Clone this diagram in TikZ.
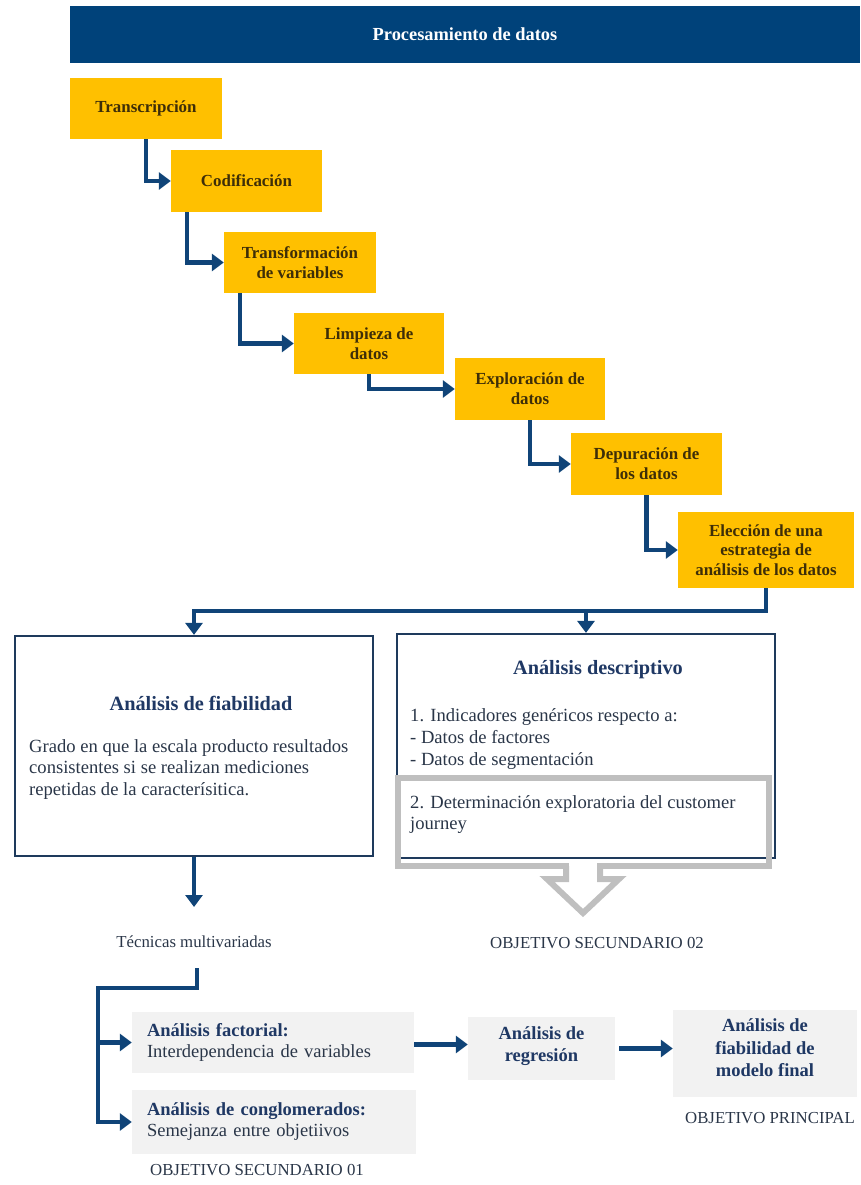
\documentclass[tikz,border=0pt]{standalone}
\usepackage{fontspec}
\setmainfont{Liberation Serif}
\usetikzlibrary{arrows.meta}
\definecolor{headblue}{RGB}{0,66,122}
\definecolor{flowblue}{RGB}{16,68,120}
\definecolor{gold}{RGB}{255,192,0}
\definecolor{goldtext}{RGB}{62,46,8}
\definecolor{titleblue}{RGB}{31,56,100}
\definecolor{bodytext}{RGB}{42,54,72}
\definecolor{boxline}{RGB}{30,58,92}
\definecolor{framegray}{RGB}{191,191,191}
\definecolor{panelgray}{RGB}{242,242,242}
\newcommand{\setfs}[2]{\fontsize{#1}{#2}\selectfont}

\tikzset{
  stepbox/.style={fill=gold, text=goldtext, inner sep=0pt, align=center,
    font=\setfs{16.9}{19.7}\bfseries},
  flow/.style={draw=flowblue, line width=4.5pt, line join=miter,
    -{Triangle[width=17pt,length=12pt]}},
  panel/.style={draw=boxline, line width=2.2pt, inner sep=0pt},
  graybox/.style={fill=panelgray, inner sep=0pt},
  title/.style={text=titleblue, font=\setfs{20.3}{24}\bfseries, inner sep=0pt},
  body/.style={text=bodytext, font=\setfs{18.6}{21.6}, align=left, inner sep=0pt},
  boldbody/.style={text=titleblue, font=\setfs{18.5}{22.5}\bfseries, align=center, inner sep=0pt},
  caption/.style={text=bodytext, font=\setfs{16.8}{20}, inner sep=0pt},
  frame/.style={draw=framegray, line width=6pt, line join=miter},
}

\begin{document}
\begin{tikzpicture}[x=1pt,y=-1pt]
\useasboundingbox (0,0) rectangle (860,1185);

% header bar
\node[fill=headblue, text=white, minimum width=790pt, minimum height=57pt, inner sep=0pt,
  font=\setfs{18.4}{22}\bfseries] (head) at (465,34.5) {Procesamiento de datos};

% processing steps
\node[stepbox, minimum width=152pt, minimum height=61pt] (t1) at (146,108.5) {Transcripción};
\node[stepbox, minimum width=151pt, minimum height=62pt] (t2) at (246.5,181) {Codificación};
\node[stepbox, minimum width=152pt, minimum height=61pt] (t3) at (300,262.5) {Transformación\\de variables};
\node[stepbox, minimum width=150pt, minimum height=61pt] (t4) at (369,343.5) {Limpieza de\\datos};
\node[stepbox, minimum width=150pt, minimum height=62pt] (t5) at (530,389) {Exploración de\\datos};
\node[stepbox, minimum width=151pt, minimum height=62pt] (t6) at (646.5,464) {Depuración de\\los datos};
\node[stepbox, minimum width=176pt, minimum height=76pt] (t7) at (766,550) {Elección de una\\estrategia de\\análisis de los datos};

\draw[flow] (t1.south) |- (t2.west);
\draw[flow] ([xshift=16pt]t2.south west) |- (t3.west);
\draw[flow] ([xshift=16pt]t3.south west) |- (t4.west);
\draw[flow] (t4.south) |- (t5.west);
\draw[flow] (t5.south) |- (t6.west);
\draw[flow] (t6.south) |- (t7.west);

% analysis panels
\node[panel, minimum width=358pt, minimum height=220pt] (fiab) at (194,746) {};
\node[panel, minimum width=378pt, minimum height=224pt] (desc) at (586,746) {};

\coordinate (split) at (766,611);
\draw[flow] (t7.south) |- (fiab.north |- split) -- (fiab.north);
\draw[flow] (desc.north |- split) -- (desc.north);

\node[title] (fiabT) at (201,703) {Análisis de fiabilidad};
\node[body, anchor=west] (fiabB) at (29,769.5)
  {Grado en que la escala producto resultados\\consistentes si se realizan mediciones\\repetidas de la caracterísitica.};

\node[title] (descT) at (598,670) {Análisis descriptivo};
\node[body, anchor=west] (descA) at (410,739)
  {1. Indicadores genéricos respecto a:\\- Datos de factores\\- Datos de segmentación};

% highlighted frame with outlined arrow
\draw[frame] (398,778) rectangle (769,866);
\fill[white] (569,862) rectangle (597,880);
\draw[frame] (566,866) -- (566,879) -- (547,879) -- (583,913) -- (619,879) -- (600,879) -- (600,866);
\node[body, anchor=west] (descB) at (410,814.5)
  {2. Determinación exploratoria del customer\\journey};
\node[caption] (obj2) at (597,943) {OBJETIVO SECUNDARIO 02};

% multivariate techniques
\coordinate (tecin) at (194,907);
\draw[flow] (fiab.south) -- (tecin);
\node[caption] (tec) at (194,942) {Técnicas multivariadas};

\node[graybox, minimum width=282pt, minimum height=61pt, text width=252pt, align=left,
  text=bodytext, font=\setfs{18.5}{21}] (fact) at (273,1042.5)
  {\textcolor{titleblue}{\bfseries Análisis factorial:}\\Interdependencia de variables};
\node[graybox, minimum width=284pt, minimum height=64pt, text width=254pt, align=left,
  text=bodytext, font=\setfs{18.5}{21}] (cong) at (274,1122)
  {\textcolor{titleblue}{\bfseries Análisis de conglomerados:}\\Semejanza entre objetiivos};
\node[caption] (obj1) at (257,1170) {OBJETIVO SECUNDARIO 01};

\coordinate (tecout) at (197,968);
\coordinate (tree) at (98,988);
\draw[flow] (tecout) |- (tree) |- (cong.west);
\draw[flow] (tree |- fact.west) -- (fact.west);

\node[graybox, minimum width=147pt, minimum height=63pt] (reg) at (541.5,1048.5) {};
\node[boldbody] (regT) at (541.5,1046) {Análisis de\\regresión};
\node[graybox, minimum width=184pt, minimum height=87pt] (fin) at (765,1053.5) {};
\node[boldbody] (finT) at (765,1048) {Análisis de\\fiabilidad de\\modelo final};
\node[caption] (objp) at (770,1118) {OBJETIVO PRINCIPAL};

\draw[flow] ([yshift=-2pt]fact.east) -- ([yshift=-2pt]fact.east -| reg.west);
\draw[flow] ([xshift=4pt]reg.east) -- (reg.east -| fin.west);
\end{tikzpicture}
\end{document}
